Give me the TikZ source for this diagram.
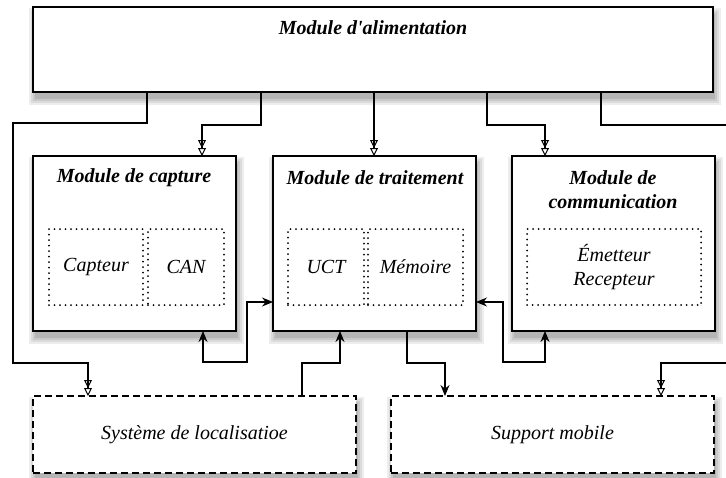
\documentclass[tikz,border=0pt]{standalone}
\usepackage{fontspec}
\setmainfont{Liberation Serif}
\usetikzlibrary{arrows.meta}
\begin{document}
\begin{tikzpicture}[
        x=1pt, y=-1pt,
        font=\fontsize{20}{24}\selectfont,
        box/.style={draw, line width=1.7pt, fill=white, anchor=north west, inner sep=0pt, outer sep=0pt},
        module/.style={box, minimum width=203pt, minimum height=175pt},
        ext/.style={box, dash pattern=on 7pt off 4pt, minimum width=323pt, minimum height=77pt},
        part/.style={draw, line width=2pt, line cap=round, dash pattern=on 0pt off 5.5pt, anchor=north west,
          inner sep=0pt, minimum height=76pt, font=\fontsize{20}{24}\selectfont\itshape},
        title/.style={font=\fontsize{20}{24}\selectfont\bfseries\itshape, align=center},
        ombreA/.style={fill=gray!14, draw=none},
        ombreB/.style={fill=gray!28, draw=none},
        ombreC/.style={fill=gray!42, draw=none},
        ombreD/.style={fill=gray!58, draw=none},
        wire/.style={line width=1.3pt},
        feed/.style={wire, -{Triangle[open,length=8pt,width=8pt,line width=1pt]Triangle[open,length=8pt,width=8pt,line width=1pt]}},
        data/.style={wire, -{Stealth[length=11pt,width=9pt]}},
        both/.style={wire, {Stealth[length=11pt,width=9pt]}-{Stealth[length=11pt,width=9pt]}}
      ]
      \useasboundingbox (0,0) rectangle (726,477);
      % ombres
      \path[ombreA] (29,8) rectangle (721,105);
      \path[ombreB] (31,10) rectangle (719,103);
      \path[ombreC] (33,12) rectangle (717,101);
      \path[ombreD] (35,14) rectangle (715,99);
      \path[ombreA] (29,157) rectangle (244,344);
      \path[ombreB] (31,159) rectangle (242,342);
      \path[ombreC] (33,161) rectangle (240,340);
      \path[ombreD] (35,163) rectangle (238,338);
      \path[ombreA] (269,157) rectangle (484,344);
      \path[ombreB] (271,159) rectangle (482,342);
      \path[ombreC] (273,161) rectangle (480,340);
      \path[ombreD] (275,163) rectangle (478,338);
      \path[ombreA] (508,157) rectangle (723,344);
      \path[ombreB] (510,159) rectangle (721,342);
      \path[ombreC] (512,161) rectangle (719,340);
      \path[ombreD] (514,163) rectangle (717,338);
      \path[ombreA] (29,397) rectangle (364,486);
      \path[ombreB] (31,399) rectangle (362,484);
      \path[ombreC] (33,401) rectangle (360,482);
      \path[ombreD] (35,403) rectangle (358,480);
      \path[ombreA] (387,397) rectangle (722,486);
      \path[ombreB] (389,399) rectangle (720,484);
      \path[ombreC] (391,401) rectangle (718,482);
      \path[ombreD] (393,403) rectangle (716,480);
      % modules
      \node[box, minimum width=680pt, minimum height=85pt] (alim) at (33,7) {};
      \node[title] (alimt) at (373,28) {Module d\textquotesingle alimentation};
      \node[module] (capture) at (33,156) {};
      \node[module] (trait) at (273,156) {};
      \node[module] (comm) at (512,156) {};
      \node[title] (capturet) at (134,178) {Module de capture};
      \node[title] (traitt) at (375,178) {Module de traitement};
      \node[title] (commt) at (613,190) {Module de\\communication};
      % sous-blocs
      \node[part, minimum width=94pt] (capteur) at (48,228) {};
      \node[part, minimum width=76pt] (can) at (147,228) {};
      \node[part, minimum width=76pt] (uct) at (287,228) {};
      \node[part, minimum width=95pt] (mem) at (367,228) {};
      \node[part, minimum width=174pt, align=center] (emrec) at (526,228) {};
      \node[font=\fontsize{20}{24}\selectfont\itshape] at (capteur.center) {Capteur};
      \node[font=\fontsize{20}{24}\selectfont\itshape] at (can.center) {CAN};
      \node[font=\fontsize{20}{24}\selectfont\itshape] at (uct.center) {UCT};
      \node[font=\fontsize{20}{24}\selectfont\itshape] at (mem.center) {Mémoire};
      \node[font=\fontsize{20}{24}\selectfont\itshape, align=center] at (emrec.center) {Émetteur\\Recepteur};
      % blocs externes
      \node[ext] (loc) at (33,396) {};
      \node[ext] (support) at (391,396) {};
      \node[font=\fontsize{20}{24}\selectfont\itshape] at (loc.center) {Système de localisatioe};
      \node[font=\fontsize{20}{24}\selectfont\itshape] at (support.center) {Support mobile};
      \coordinate (eastout) at (726,125);
      \coordinate (eastin) at (726,363);
      % alimentation
      \draw[feed] ([xshift=114pt]alim.south west) |- ++(-134,31) |- ++(75,240) -- ([xshift=55pt]loc.north west);
      \draw[feed] ([xshift=228pt]alim.south west) |- ++(-59,33) -- ([xshift=169pt]capture.north west);
      \draw[feed] ([xshift=341pt]alim.south west) -- ([xshift=101pt]trait.north west);
      \draw[feed] ([xshift=454pt]alim.south west) |- ++(58,33) -- ([xshift=33pt]comm.north west);
      \draw[wire] ([xshift=568pt]alim.south west) |- (eastout);
      \draw[feed] (eastin) -| ([xshift=270pt]support.north west);
      % donnees
      \draw[both] ([xshift=170pt]capture.south west) |- ++(44,31) |- ([yshift=-58.5pt]trait.west);
      \draw[both] ([yshift=-58.5pt]trait.east) -| ++(27,60) -| ([xshift=33pt]comm.south west);
      \draw[data] ([xshift=134pt]trait.south west) |- ++(38,32) -- ([xshift=54pt]support.north west);
      \draw[data] ([xshift=269pt]loc.north west) |- ++(38,-33) -- ([xshift=67pt]trait.south west);
\end{tikzpicture}
\end{document}
